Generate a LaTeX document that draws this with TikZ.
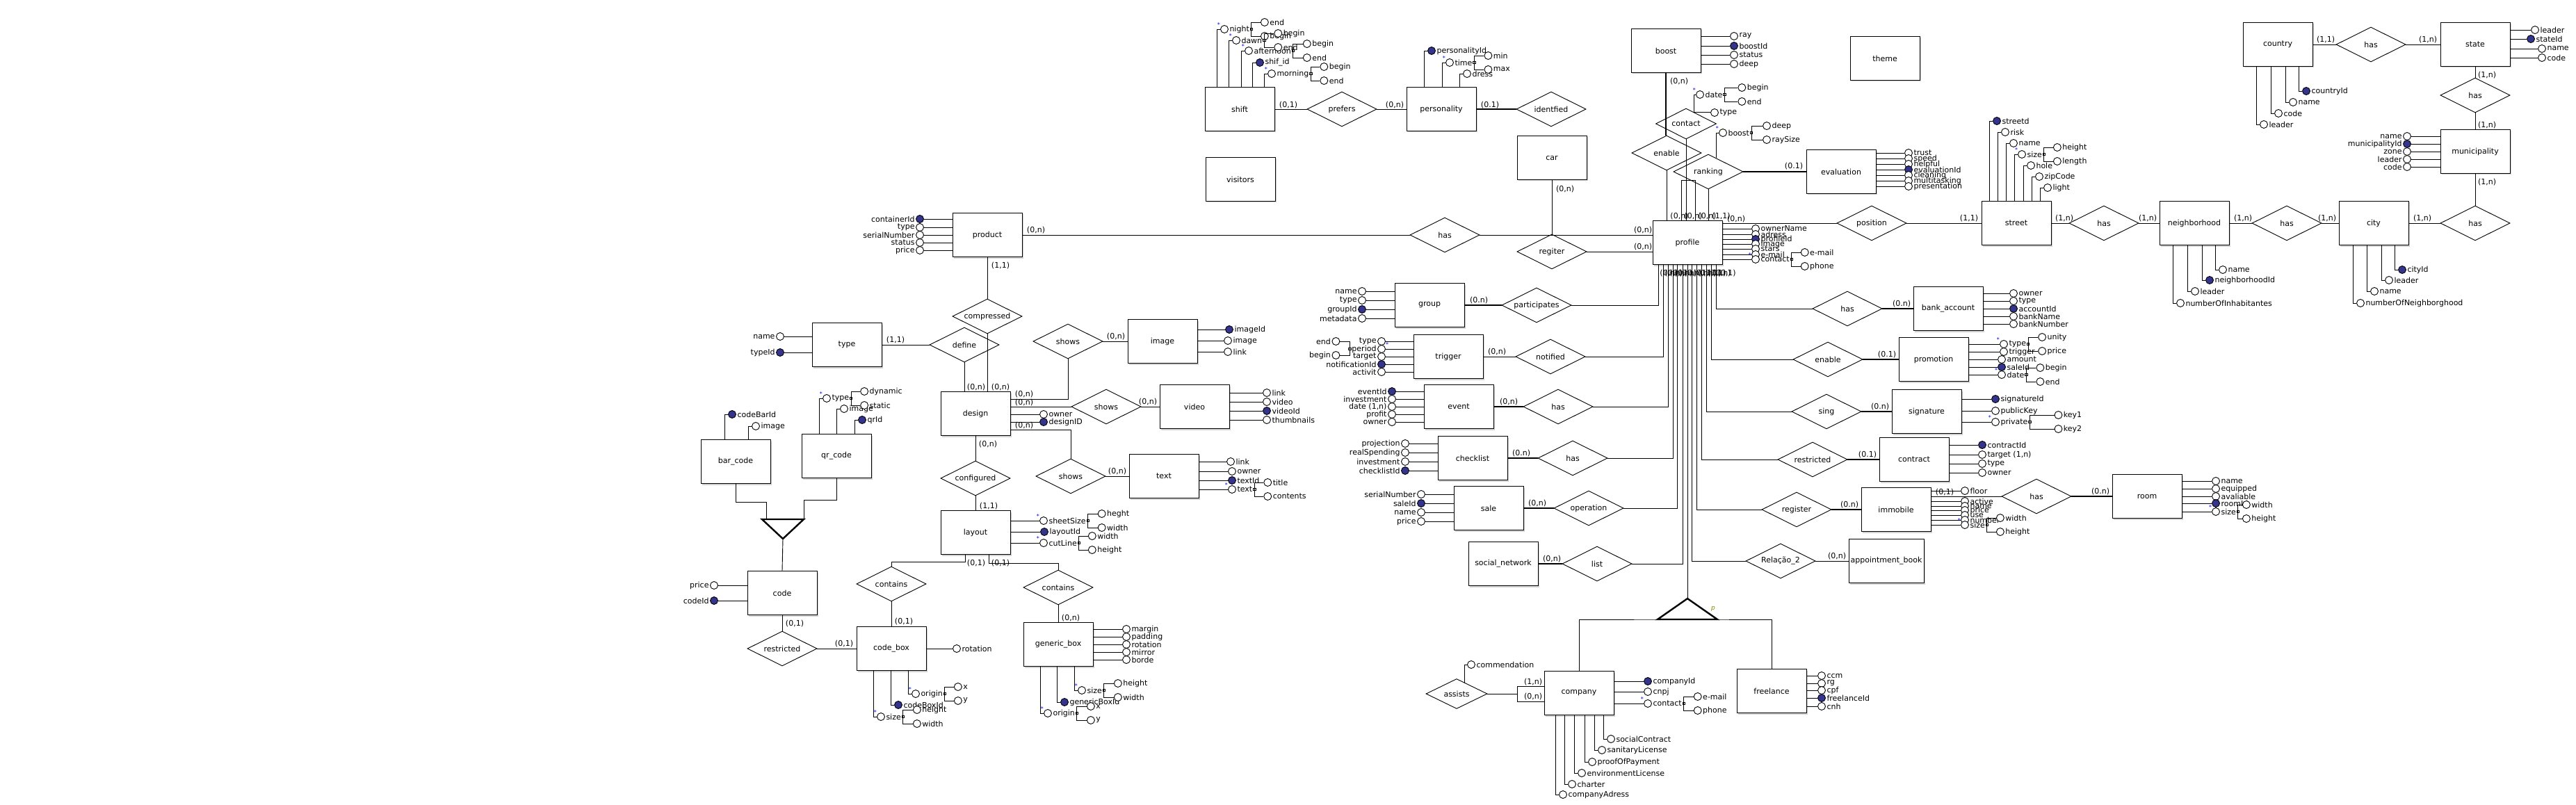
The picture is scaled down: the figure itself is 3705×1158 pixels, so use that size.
\documentclass[tikz,border=0pt]{standalone}
\usepackage{fontspec}
\setmainfont{DejaVu Sans}
\usepackage{tikz}
\usetikzlibrary{shadows}
\usetikzlibrary{positioning}
\usetikzlibrary{shapes.geometric}
\usetikzlibrary{calc}
\definecolor{keyblue}{RGB}{52,52,140}
\tikzstyle{entity}=[draw, rectangle, fill=white, minimum width=100pt, minimum height=63pt, inner sep=1pt, drop shadow={shadow xshift=2pt, shadow yshift=-2pt, fill=black!35}]
\tikzstyle{relation}=[draw, diamond, aspect=2, minimum width=100pt, minimum height=50pt, inner sep=0pt]
\tikzstyle{attr}=[draw, circle, fill=white, minimum size=11pt, inner sep=0pt]
\tikzstyle{keyattr}=[attr, fill=keyblue]
\tikzstyle{asterisk}=[text=blue, font=\footnotesize, inner sep=0pt]
\tikzstyle{multi}=[attr, label={[asterisk]150:*}]
\tikzstyle{comp}=[draw, rectangle, fill=white, minimum size=3.5pt, inner sep=0pt]
\tikzstyle{card}=[inner sep=0pt]
\tikzstyle{thickline}=[line width=2.6pt]
\tikzstyle{spec}=[line width=2.4pt, line join=miter]

\begin{document}
\begin{tikzpicture}[x=1pt, y=-1pt, line width=0.9pt, font=\fontsize{11}{13}\selectfont, every label/.style={inner sep=0.6pt}, label distance=0.5pt]
  \useasboundingbox (0,0) rectangle (3705,1158);

  % entities
  \foreach \pos/\name/\txt in {{(1783,157)/shift/shift}, {(1784,258)/visitors/visitors},
    {(2073,157)/personality/personality}, {(2232,227)/car/car}, {(2396,73)/boost/boost},
    {(2711,84)/theme/theme}, {(2648,247)/evaluation/evaluation}, {(2427,349)/profile/profile},
    {(2900,321)/street/street}, {(3156,321)/neighborhood/neighborhood}, {(3414,321)/city/city},
    {(3276,64)/country/country}, {(3560,64)/state/state}, {(3560,218)/municipality/municipality},
    {(1420,338)/product/product}, {(1218,496)/type/type}, {(1403,595)/design/design},
    {(1672,491)/image/image}, {(1718,585)/video/video}, {(1674,685)/textbox/text},
    {(1058,664)/barcode/bar\_code}, {(1203,656)/qrcode/qr\_code}, {(1403,766)/layout/layout},
    {(1125,853)/code/code}, {(1282,933)/codebox/code\_box}, {(1522,927)/genericbox/generic\_box},
    {(2056,439)/group/group}, {(2083,513)/trigger/trigger}, {(2098,585)/event/event},
    {(2118,659)/checklist/checklist}, {(2141,731)/sale/sale}, {(2162,811)/socialnetwork/social\_network},
    {(2802,444)/bankaccount/bank\_account}, {(2781,517)/promotion/promotion},
    {(2771,592)/signature/signature}, {(2753,661)/contract/contract}, {(2727,733)/immobile/immobile},
    {(3088,714)/room/room}, {(2271,997)/company/company}, {(2548,994)/freelance/freelance}}
    \node[entity] (\name) at \pos {\txt};
  \node[entity, minimum width=108pt] (appointment) at (2713,807) {appointment\_book};

  % relationships
  \foreach \pos/\name/\txt in {{(1930,157)/prefers/prefers}, {(2231,157)/identfied/identfied},
    {(2397,220)/enable/enable}, {(2457,247)/ranking/ranking}, {(2692,321)/position/position},
    {(3026,321)/hasstreet/has}, {(3289,321)/hascity/has}, {(3560,321)/hasmun/has},
    {(3560,137)/hasstate/has}, {(3410,64)/hascountry/has}, {(2078,338)/hasproduct/has},
    {(2232,362)/regiter/regiter}, {(1420,455)/compressed/compressed}, {(1387,496)/define/define},
    {(1536,491)/showsimage/shows}, {(1591,585)/showsvideo/shows}, {(1540,685)/showstext/shows},
    {(1403,688)/configured/configured}, {(1282,840)/containscode/contains},
    {(1522,845)/containsgeneric/contains}, {(1125,933)/restrictedcode/restricted},
    {(2210,439)/participates/participates}, {(2230,513)/notified/notified}, {(2241,585)/hasevent/has},
    {(2262,659)/haschecklist/has}, {(2285,731)/operation/operation}, {(2297,811)/list/list},
    {(2657,444)/hasbank/has}, {(2629,517)/enablepromo/enable}, {(2627,592)/sing/sing},
    {(2607,661)/restricted/restricted}, {(2584,733)/register/register},
    {(2561,807)/relacao/Relação\_2}, {(2929,714)/hasroom/has}}
    \node[relation] (\name) at \pos {\txt};
  \node[relation, minimum width=87pt, minimum height=44pt] (contact) at (2425,178) {contact};
  \node[relation, minimum width=88pt, minimum height=43pt] (assists) at (2095,998) {assists};

  % attributes on the right side
  \foreach \ent/\x/\y/\txt/\st in {
    boost/2494/52/ray/attr, boost/2494/66/boostId/keyattr, boost/2494/79/status/attr, boost/2494/92/deep/attr,
    evaluation/2745/220/trust/attr, evaluation/2745/228/speed/attr, evaluation/2745/236/helpful/attr,
    evaluation/2745/244/evaluationId/keyattr, evaluation/2745/252/cleaning/attr,
    evaluation/2745/260/multitasking/attr, evaluation/2745/268/presentation/attr,
    state/3646/43/leader/attr, state/3640/56/stateId/keyattr, state/3656/70/name/attr, state/3656/83/code/attr,
    profile/2525/329/ownerName/attr, profile/2525/337/adress/attr, profile/2525/344/profileId/keyattr,
    profile/2525/351/image/attr, profile/2525/358/stars/attr, profile/2525/366/e-mail/attr, profile/2525/373/contact/multi,
    image/1768/474/imageId/keyattr, image/1766/490/image/attr, image/1766/506/link/attr,
    video/1822/565/link/attr, video/1822/578/video/attr, video/1822/591/videoId/keyattr, video/1822/604/thumbnails/attr,
    textbox/1770/664/link/attr, textbox/1772/678/owner/attr, textbox/1772/691/textId/keyattr, textbox/1772/704/text/multi,
    design/1501/596/owner/attr, design/1501/607/designID/keyattr,
    layout/1501/749/sheetSize/multi, layout/1502/765/layoutId/keyattr, layout/1501/781/cutLine/multi,
    codebox/1376/933/rotation/attr,
    genericbox/1620/905/margin/attr, genericbox/1620/916/padding/attr, genericbox/1620/927/rotation/attr,
    genericbox/1620/938/mirror/attr, genericbox/1620/949/borde/attr,
    bankaccount/2896/422/owner/attr, bankaccount/2896/433/type/attr, bankaccount/2896/444/accountId/keyattr,
    bankaccount/2896/455/bankName/attr, bankaccount/2896/466/bankNumber/attr,
    promotion/2882/495/type/multi, promotion/2882/506/trigger/attr, promotion/2879/517/amount/attr,
    promotion/2879/528/saleId/keyattr, promotion/2879/539/date/multi,
    signature/2870/574/signatureId/keyattr, signature/2870/591/publicKey/attr, signature/2870/607/private/multi,
    contract/2851/640/contractId/keyattr, contract/2851/667/type/attr, contract/2851/680/owner/attr,
    immobile/2826/706/floor/attr, immobile/2826/721/active/attr, immobile/2826/728/name/attr,
    immobile/2826/734/price/attr, immobile/2826/741/use/attr, immobile/2826/748/number/attr, immobile/2826/755/size/multi,
    room/3187/692/name/attr, room/3187/703/equipped/attr, room/3187/714/avaliable/attr,
    room/3187/724/roomId/keyattr, room/3187/736/size/multi,
    freelance/2620/972/ccm/attr, freelance/2620/983/rg/attr, freelance/2620/993/cpf/attr,
    freelance/2620/1004/freelanceId/keyattr, freelance/2620/1016/cnh/attr,
    company/2370/980/companyId/keyattr, company/2370/995/cnpj/attr, company/2370/1012/contact/multi}
  {
    \node[\st, label={[name=\ent-\y-l]right:\txt}] (\ent-\y) at (\x,\y) {};
    \draw (\ent.east |- \ent-\y) -- (\ent-\y);
  }
  \node[attr, label={right:{target (1,n)}}] (contract-654) at (2851,654) {};
  \draw (contract.east |- contract-654) -- (contract-654);

  % attributes on the left side
  \foreach \ent/\x/\y/\txt/\st in {
    product/1323/315/containerId/keyattr, product/1323/327/type/attr, product/1323/338/serialNumber/attr,
    product/1323/349/status/attr, product/1323/360/price/attr,
    type/1122/484/name/attr, type/1122/507/typeId/keyattr,
    code/1027/842/price/attr, code/1027/864/codeId/keyattr,
    municipality/3462/196/name/attr, municipality/3462/207/municipalityId/keyattr, municipality/3462/218/zone/attr,
    municipality/3462/229/leader/attr, municipality/3462/240/code/attr,
    group/1959/419/name/attr, group/1959/432/type/attr, group/1959/445/groupId/keyattr, group/1959/458/metadata/attr,
    trigger/1987/491/type/attr, trigger/1987/513/target/attr, trigger/1987/524/notificationId/keyattr, trigger/1987/535/activit/attr,
    event/2002/563/eventId/keyattr, event/2002/574/investment/attr, event/2002/596/profit/attr, event/2002/607/owner/attr,
    checklist/2021/638/projection/attr, checklist/2021/651/realSpending/attr, checklist/2021/664/investment/attr,
    checklist/2021/677/checklistId/keyattr,
    sale/2044/711/serialNumber/attr, sale/2044/724/saleId/keyattr, sale/2044/737/name/attr, sale/2044/750/price/attr}
  {
    \node[\st, label={[name=\ent-\y-l]left:\txt}] (\ent-\y) at (\x,\y) {};
    \draw (\ent.west |- \ent-\y) -- (\ent-\y);
  }
  \node[attr, label={left:{date (1,n)}}] (event-585) at (2002,585) {};
  \draw (event.west |- event-585) -- (event-585);
  \node[attr, label={[name=trigger-502-l]left:period}, label={[asterisk]30:*}] (trigger-502) at (1987,502) {};
  \draw (trigger.west |- trigger-502) -- (trigger-502);
  \node[comp] (trigger-502-q) at ([xshift=-2pt]trigger-502-l.west) {};
  \node[attr, label=left:end] (trigger-502-a) at ([shift={(-20,-11)}]trigger-502-q) {};
  \node[attr, label=left:begin] (trigger-502-b) at ([shift={(-20,9)}]trigger-502-q) {};
  \draw (trigger-502-a) -| (trigger-502-q.center) |- (trigger-502-b);

  % attributes standing on top
  \foreach \ent/\x/\y/\txt/\st in {
    shift/1761/42/night/multi, shift/1778/58/dawn/multi, shift/1796/73/afternoon/multi,
    shift/1812/90/shif\_id/keyattr, shift/1829/106/morning/multi,
    personality/2059/73/personalityId/keyattr, personality/2085/90/time/multi, personality/2110/106/dress/attr,
    street/2872/174/streetd/keyattr, street/2884/190/risk/attr, street/2896/206/name/attr, street/2908/222/size/multi,
    street/2921/238/hole/attr, street/2933/254/zipCode/attr, street/2945/270/light/attr,
    barcode/1053/596/codeBarId/keyattr, barcode/1087/613/image/attr,
    qrcode/1189/573/type/multi, qrcode/1214/588/image/attr, qrcode/1240/604/qrId/keyattr}
  {
    \node[\st, label={[name=\ent-\y-l]right:\txt}] (\ent-\y) at (\x,\y) {};
    \draw (\ent-\y.west) -| ([xshift=-4.5pt]\ent-\y.west |- \ent.north);
  }

  % attributes hanging below
  \foreach \ent/\x/\y/\txt/\st in {
    country/3317/131/countryId/keyattr, country/3298/147/name/attr, country/3277/163/code/attr, country/3256/179/leader/attr,
    neighborhood/3197/388/name/attr, neighborhood/3178/403/neighborhoodId/keyattr, neighborhood/3157/419/leader/attr,
    neighborhood/3136/436/numberOfInhabitantes/attr,
    city/3455/388/cityId/keyattr, city/3436/403/leader/attr, city/3415/419/name/attr, city/3395/436/numberOfNeighborghood/attr,
    codebox/1317/998/origin/multi, codebox/1292/1014/codeBoxId/keyattr, codebox/1267/1031/size/multi,
    genericbox/1556/993/size/multi, genericbox/1531/1010/genericBoxId/keyattr, genericbox/1507/1026/origin/multi,
    company/2317/1063/socialContract/attr, company/2304/1079/sanitaryLicense/attr, company/2290/1096/proofOfPayment/attr,
    company/2275/1112/environmentLicense/attr, company/2261/1128/charter/attr, company/2248/1143/companyAdress/attr}
  {
    \node[\st, label={[name=\ent-\y-l]right:\txt}] (\ent-\y) at (\x,\y) {};
    \draw (\ent-\y.west) -| ([xshift=-4.5pt]\ent-\y.west |- \ent.south);
  }

  % attributes of relationships
  \coordinate (contactbase) at ($(contact.north)!.25!(contact.east)$);
  \node[multi, label={[name=contact-136-l]right:date}] (contact-136) at (2445,136) {};
  \node[attr, label=right:type] (contact-162) at (2466,162) {};
  \draw (contactbase) |- (contact-136);
  \draw (contactbase) -- (contactbase -| contact-162.west);
  \coordinate (rankingbase) at ($(ranking.north)!.22!(ranking.east)$);
  \node[multi, label={[name=ranking-191-l]right:boost}] (ranking-191) at (2478,191) {};
  \draw (rankingbase) |- (ranking-191);
  \coordinate (assistsbase) at ($(assists.north)!.25!(assists.east)$);
  \node[attr, label=right:commendation] (assists-956) at (2116,956) {};
  \draw (assistsbase) |- (assists-956);

  % composite attributes
  \foreach \src/\dx/\ca/\cb in {shift-42/19/end/begin, shift-58/20/begin/end, shift-73/20/begin/end,
    shift-106/19/begin/end, personality-90/20/min/max, contact-136/25/begin/end, ranking-191/22/deep/raySize,
    profile-373/19/e-mail/phone, street-222/19/height/length, qrcode-573/19/dynamic/static,
    layout-749/20/heght/width, layout-781/19/width/height, codebox-998/19/x/y, codebox-1031/20/height/width,
    genericbox-993/20/height/width, genericbox-1026/20/x/y, textbox-704/19/title/contents,
    promotion-495/20/unity/price, promotion-539/20/begin/end, signature-607/41/key1/key2,
    immobile-755/19/width/height, room-736/12/width/height, company-1012/20/e-mail/phone}
  {
    \node[comp] (\src-q) at ([xshift=2pt]\src-l.east) {};
    \node[attr, label=right:\ca] (\src-a) at ([shift={(\dx,-10)}]\src-q) {};
    \node[attr, label=right:\cb] (\src-b) at ([shift={(\dx,10)}]\src-q) {};
    \draw (\src-a) -| (\src-q.center) |- (\src-b);
  }

  % connections, top part
  \draw (shift) -- (prefers) -- (personality);
  \draw[thickline] (personality) -- (identfied);
  \draw (car) -- (regiter);
  \draw[thickline] (boost.south) -- (boost.south |- enable.north);
  \draw (enable.south) -- (enable.south |- profile.north);
  \draw (contact.south) -- (contact.south |- profile.north);
  \draw (ranking.south) -- (ranking.south |- profile.north);
  \draw ([xshift=-9pt]profile.north) -- ++(0,-58) -| ([xshift=11pt]profile.north);
  \draw[thickline] (ranking) -- (evaluation);
  \draw (profile.east |- position.west) -- (position.west);
  \draw (position) -- (street) -- (hasstreet) -- (neighborhood) -- (hascity) -- (city) -- (hasmun);
  \draw (hasmun) -- (municipality) -- (hasstate) -- (state) -- (hascountry) -- (country);

  % product and design
  \draw (product) -- (hasproduct);
  \draw (hasproduct.east) -- (hasproduct.east -| profile.west);
  \draw (regiter.east) -- (regiter.east -| profile.west);
  \draw (product) -- (compressed);
  \draw (compressed.south) -- (compressed.south |- design.north);
  \draw (define.south) -- (define.south |- design.north);
  \draw (type) -- (define);
  \draw (showsimage.south) |- ([yshift=21pt]design.east);
  \draw (showsimage) -- (image);
  \draw ([yshift=10pt]design.east) -- (showsvideo.west);
  \draw (showsvideo) -- (video);
  \draw ([yshift=-23pt]design.east) -| (showstext.north);
  \draw (showstext) -- (textbox);
  \draw (design) -- (configured) -- (layout);
  \draw ([xshift=-15pt]layout.south) -- ++(0,10) -| (containscode.north);
  \draw ([xshift=19pt]layout.south) -- ++(0,12) -| (containsgeneric.north);
  \draw (containscode) -- (codebox);
  \draw (containsgeneric) -- (genericbox);
  \draw (code) -- (restrictedcode) -- (codebox);

  % specialization of code
  \coordinate (codespec) at (1126,747);
  \draw (barcode.south) -- ++(0,26) -| ([xshift=-24pt]codespec);
  \draw (qrcode.south) -- ++(0,31) -| ([xshift=30pt]codespec);
  \draw ([yshift=-28pt]codespec) -- (code.north);
  \draw[spec] ([xshift=-30pt]codespec) -- ([xshift=30pt]codespec) -- ([yshift=-28pt]codespec) -- cycle;

  % relationships hanging from profile
  \foreach \rel/\dx in {participates/-42, notified/-35, hasevent/-28, haschecklist/-21, operation/-15, list/-7}
    \draw (\rel.east) -| ([xshift=\dx pt]profile.south);
  \foreach \rel/\dx in {relacao/6, register/13, restricted/20, sing/27, enablepromo/34, hasbank/41}
    \draw (\rel.west) -| ([xshift=\dx pt]profile.south);
  \foreach \a/\b in {group/participates, event/hasevent, checklist/haschecklist, sale/operation,
    socialnetwork/list, hasbank/bankaccount, enablepromo/promotion, sing/signature,
    restricted/contract, register/immobile, hasroom/room}
    \draw[thickline] (\a) -- (\b);
  \draw (trigger) -- (notified);
  \draw (relacao) -- (appointment);
  \draw ([yshift=19pt]immobile.east) -- (hasroom.west);

  % specialization of profile
  \coordinate (profspec) at (2427,861);
  \draw (profile.south) -- (profspec);
  \draw (company.north) |- ([yshift=-30pt]profspec) -| (freelance.north);
  \draw[spec] (profspec) -- ([shift={(-43,30)}]profspec) -- ([shift={(43,30)}]profspec) -- cycle;
  \node[text=olive, font=\itshape\small] (plabel) at (2464,876) {p};
  \coordinate (assistsfork) at (2182,998);
  \draw (assists) -- (assistsfork);
  \draw (assistsfork) |- ([yshift=10pt]company.west);
  \draw (assistsfork) |- ([yshift=-12pt]company.west);

  % cardinalities
  \foreach \pos/\txt [count=\i] in {{(1853,151)/(0,1)}, {(2006,151)/(0,n)}, {(2143,151)/(0.1)},
    {(2251,272)/(0,n)}, {(2415,117)/(0,n)}, {(2580,239)/(0.1)}, {(2497,315)/(0,n)}, {(2832,314)/(1,1)},
    {(2969,314)/(1,n)}, {(3089,314)/(1,n)}, {(3226,314)/(1,n)}, {(3347,314)/(1,n)}, {(3484,314)/(1,n)},
    {(3577,262)/(1,n)}, {(3577,180)/(1,n)}, {(3577,108)/(1,n)}, {(3492,57)/(1,n)}, {(3345,57)/(1,1)},
    {(1490,331)/(0,n)}, {(1439,382)/(1,1)}, {(1288,489)/(1,1)}, {(1404,557)/(0,n)}, {(1439,557)/(0,n)},
    {(1473,567)/(0,n)}, {(1473,579)/(0,n)}, {(1473,612)/(0,n)}, {(1605,484)/(0,n)}, {(1651,578)/(0,n)},
    {(1607,678)/(0,n)}, {(1421,639)/(0,n)}, {(1422,728)/(1,1)}, {(1404,810)/(0,1)}, {(1439,810)/(0,1)},
    {(1300,894)/(0,1)}, {(1540,889)/(0,n)}, {(1143,897)/(0,1)}, {(1214,926)/(0,1)},
    {(2127,432)/(0.n)}, {(2153,506)/(0,n)}, {(2170,578)/(0,n)}, {(2188,652)/(0.n)}, {(2211,724)/(0,n)},
    {(2232,804)/(0,n)}, {(2735,437)/(0.n)}, {(2714,510)/(0.1)}, {(2704,585)/(0.n)}, {(2686,654)/(0.1)},
    {(2660,726)/(0.n)}, {(2642,800)/(0,n)}, {(2797,708)/(0,1)}, {(3021,707)/(0.n)},
    {(2205,981)/(1,n)}, {(2205,1002)/(0,n)}, {(2363,331)/(0,n)}, {(2363,355)/(0,n)}}
    \node[card] (card\i) at \pos {\txt};
  \foreach \x/\txt [count=\i] in {{2402/(0,n)}, {2422/(0,n)}, {2442/(0,n)}, {2462/(1,1)}}
    \node[card, anchor=west] (top\i) at (\x,311) {\txt};
  \foreach \x/\txt [count=\i] in {{2387/(0,n)}, {2394/(0,n)}, {2401/(0,n)}, {2408/(0,n)}, {2414/(0,n)},
    {2422/(0,n)}, {2435/(0,n)}, {2442/(1,n)}, {2449/(1,1)}, {2456/(1,1)}, {2463/(0,n)}, {2470/(0,1)}}
    \node[card, anchor=west] (bottom\i) at (\x,393) {\txt};
\end{tikzpicture}
\end{document}
